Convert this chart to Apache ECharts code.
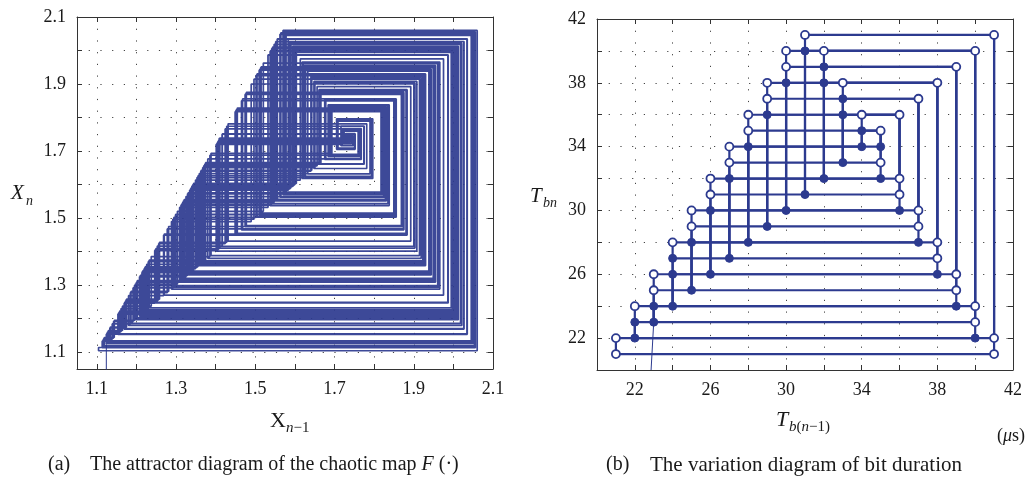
<!DOCTYPE html>
<html><head><meta charset="utf-8">
<script src="https://cdn.jsdelivr.net/npm/echarts@6/dist/echarts.min.js"></script>
<style>html,body{margin:0;padding:0;background:#fff}#c{width:1033px;height:482px}</style>
</head><body><div id="c"></div>
<script>
// ---------- Panel (a): orbit of the chaotic map, values read from the cobweb ----------
const orbitA = [
1.124,1.154,1.215,1.340,1.595,2.011,1.200,1.309,1.532,1.986,1.249,1.409,1.738,1.7325,1.743,1.7228,1.7621,1.6855,1.8349,1.5435,
2.0099,1.2023,1.3139,1.5416,2.0061,1.2097,1.3290,1.5724,2.0554,1.1136,1.1329,1.1723,1.2527,1.4167,1.7513,1.7066,1.7937,1.6239,1.9550,1.3093,
1.5322,1.9869,1.2471,1.4053,1.7280,1.7520,1.7052,1.7965,1.6184,1.9657,1.2885,1.4897,1.9002,1.4162,1.7502,1.7087,1.7896,1.6319,1.9394,1.3398,
1.5944,2.0125,1.1972,1.3035,1.5203,1.9626,1.2945,1.5020,1.9253,1.3673,1.6505,1.9031,1.4106,1.7388,1.7309,1.7463,1.7163,1.7748,1.6607,1.8832,
1.4494,1.8180,1.5765,2.0474,1.1292,1.1648,1.2374,1.3855,1.6876,1.8308,1.5515,2.0263,1.1703,1.2486,1.4083,1.7341,1.7401,1.7284,1.7512,1.7068,
1.7933,1.6247,1.9534,1.3125,1.5387,2.0001,1.2214,1.3529,1.6211,1.9605,1.2986,1.5103,1.9422,1.3343,1.5832,2.0344,1.1545,1.2164,1.3427,1.6003,
2.0010,1.2196,1.3492,1.6136,1.9751,1.2702,1.4524,1.8241,1.5646,2.0530,1.1182,1.1423,1.1915,1.2919,1.4967,1.9145,1.3883,1.6933,1.8197,1.5732,
2.0539,1.1165,1.1389,1.1846,1.2778,1.4679,1.8557,1.5030,1.9273,1.3634,1.6425,1.9187,1.3801,1.6766,1.8522,1.5098,1.9412,1.3363,1.5873,2.0264,
1.1701,1.2482,1.4075,1.7325,1.7432,1.7224,1.7629,1.6839,1.8380,1.5375,1.9977,1.2261,1.3624,1.6405,1.9226,1.3725,1.6611,1.8825,1.4507,1.8206,
1.5700,2.0601,1.1044,1.1142,1.1342,1.1750,1.2582,1.4279,1.7741,1.6621,1.8805,1.4546,1.8286,1.5558,2.0350,1.1533,1.2139,1.3376,1.5899,2.0213,
1.1801,1.2686,1.4491,1.8174,1.5777,2.0451,1.1337,1.1740,1.2562,1.4239,1.7660,1.6779,1.8497,1.5147,1.9512,1.3168,1.5475,2.0181,1.1863,1.2813,
1.4751,1.8704,1.4743,1.8688,1.4774,1.8751,1.4652,1.8502,1.5137,1.9492,1.3207,1.5554,2.0342,1.1549,1.2172,1.3443,1.6036,1.9946,1.2321,1.3747,
1.6656,1.8737,1.4679,1.8557,1.5042,1.9298,1.3585,1.6325,1.9382,1.3421,1.5991,2.0034,1.2150,1.3412,1.5972,2.0071,1.2078,1.3251,1.5644,2.0526,
1.1190,1.1440,1.1950,1.2990,1.5112,1.9441,1.3306,1.5756,2.0492,1.1257,1.1576,1.2227,1.3555,1.6264,1.9501,1.3189,1.5518,2.0269,1.1691,1.2462,
1.4034,1.7241,1.7596,1.6904,1.8253,1.5623,2.0483,1.1274,1.1611,1.2298,1.3700,1.6560,1.8924,1.4314,1.7813,1.6481,1.9078,1.4014,1.7201,1.7674,
1.6752,1.8550,1.5044,1.9302
];
const startA = [[1.124, 1.0], [1.124, 1.124]];
const tickLabelsA = [1.1, 1.3, 1.5, 1.7, 1.9, 2.1];

// ---------- Panel (b): transitions [T_b(n-1), T_bn] ----------
const transitionsB = [
[31,41],[30,40],[31,40],[32,40],[30,39],[32,39],[29,38],[30,38],[32,38],[33,38],
[29,37],[33,37],[28,36],[29,36],[33,36],[34,36],[28,35],[34,35],[27,34],[28,34],
[35,34],[27,33],[35,33],[26,32],[27,32],[35,32],[36,32],[26,31],[36,31],[25,30],
[26,30],[36,30],[37,30],[25,29],[37,29],[24,28],[25,28],[37,28],[38,28],[24,27],
[38,27],[23,26],[24,26],[38,26],[39,26],[23,25],[39,25],[22,24],[23,24],[39,24],
[40,24],[22,23],[40,23],[21,22],[40,22],[41,22],[41,21]
];
// markers that look hollow in the picture (all others look solid)
const openMarksB = [
[31,41],[41,41],[30,40],[32,40],[40,40],[30,39],[39,39],[29,38],[33,38],[38,38],
[29,37],[37,37],[28,36],[34,36],[36,36],[28,35],[35,35],[27,34],[27,33],[35,33],
[26,32],[36,32],[26,31],[36,31],[25,30],[37,30],[25,29],[37,29],[24,28],[38,28],
[38,27],[23,26],[39,26],[23,25],[39,25],[22,24],[40,24],[40,23],[21,22],[41,22],
[21,21],[41,21]
];
const startB = [[22.86, 20], [23, 23]];
const tickLabelsB = [22, 26, 30, 34, 38, 42];

// ---------- build ----------
const NAVY = '#2c3a8f';
const FONT = '"Liberation Serif", "DejaVu Serif", serif';
const has = (arr, v) => arr.some(t => Math.abs(t - v) < 1e-6);

const cobwebA = [];
for (let i = 0; i < orbitA.length - 1; i++) {
  cobwebA.push([orbitA[i], orbitA[i]]);
  cobwebA.push([orbitA[i], orbitA[i + 1]]);
}
cobwebA.push([orbitA[orbitA.length - 1], orbitA[orbitA.length - 1]]);

const segB = transitionsB.map(([a, b]) => ({ coords: [[a, a], [a, b], [b, b]] }));
const openKeys = new Set(openMarksB.map(p => p.join(',')));
const markKeys = new Set();
const solidB = [], hollowB = [];
transitionsB.forEach(([a, b]) => {
  [[a, b], [a, a], [b, b]].forEach(p => {
    const k = p.join(',');
    if (markKeys.has(k)) return;
    markKeys.add(k);
    (openKeys.has(k) ? hollowB : solidB).push(p);
  });
});

const gridLine = { show: true, lineStyle: { color: '#444', width: 1, type: [1.2, 10.5] } };
const tickIn = { show: true, inside: true, length: 5, lineStyle: { color: '#333' } };
const axLine = { show: true, onZero: false, lineStyle: { color: '#333', width: 1 } };
const lab = (list, dec) => ({
  show: true, color: '#1a1a1a', fontFamily: FONT, fontSize: 18, margin: 11,
  formatter: v => has(list, v) ? Number(v).toFixed(dec) : ''
});

function axisPair(grid, min, max, step, list, dec, isX) {
  const base = { type: 'value', gridIndex: grid, min, max, minInterval: step, maxInterval: step };
  if (min % step === 0) base.interval = step;
  const main = Object.assign({}, base, {
    position: isX ? 'bottom' : 'left',
    axisLine: axLine, axisTick: tickIn, splitLine: gridLine, axisLabel: lab(list, dec)
  });
  const opp = Object.assign({}, base, {
    position: isX ? 'top' : 'right',
    axisLine: axLine, axisTick: tickIn, splitLine: { show: false }, axisLabel: { show: false }
  });
  return [main, opp];
}

const xA = axisPair(0, 1.05, 2.1, 0.1, tickLabelsA, 1, true);
const yA = axisPair(0, 1.05, 2.1, 0.1, tickLabelsA, 1, false);
const xB = axisPair(1, 20, 42, 2, tickLabelsB, 0, true);
const yB = axisPair(1, 20, 42, 2, tickLabelsB, 0, false);

const txt = (left, top, text, size, extra) => ({
  type: 'text', left, top, silent: true,
  style: Object.assign({ text, fontFamily: FONT, fontSize: size, fill: '#1a1a1a' }, extra || {})
});
const ital = { fontStyle: 'italic' };
const richI = s => ({ rich: { i: { fontStyle: 'italic', fontSize: s, fontFamily: FONT, fill: '#1a1a1a' } } });

const option = {
  animation: false,
  backgroundColor: '#fff',
  grid: [
    { left: 77, top: 17, width: 416, height: 352 },
    { left: 597, top: 19, width: 416, height: 351 }
  ],
  xAxis: [xA[0], xA[1], xB[0], xB[1]],
  yAxis: [yA[0], yA[1], yB[0], yB[1]],
  series: [
    { type: 'line', xAxisIndex: 0, yAxisIndex: 0, data: startA, showSymbol: false,
      lineStyle: { color: NAVY, width: 1 }, z: 3 },
    { type: 'line', xAxisIndex: 0, yAxisIndex: 0, data: cobwebA, showSymbol: false,
      lineStyle: { color: NAVY, width: 1.7, opacity: 0.92 }, z: 3 },
    { type: 'line', xAxisIndex: 2, yAxisIndex: 2, data: startB, showSymbol: false,
      lineStyle: { color: NAVY, width: 1 }, z: 3 },
    { type: 'lines', coordinateSystem: 'cartesian2d', xAxisIndex: 2, yAxisIndex: 2,
      polyline: true, data: segB, lineStyle: { color: NAVY, width: 2.2, opacity: 1 }, z: 3 },
    { type: 'scatter', xAxisIndex: 2, yAxisIndex: 2, data: solidB, symbol: 'circle', symbolSize: 8,
      itemStyle: { color: NAVY, borderColor: NAVY, borderWidth: 1, opacity: 1 }, z: 4 },
    { type: 'scatter', xAxisIndex: 2, yAxisIndex: 2, data: hollowB, symbol: 'circle', symbolSize: 8,
      itemStyle: { color: '#fff', borderColor: NAVY, borderWidth: 1.8, opacity: 1 }, z: 4 }
  ],
  graphic: [
    txt(11, 183, 'X', 21, ital),
    txt(26, 194, 'n', 14, ital),
    txt(270, 410, 'X', 22),
    txt(286, 421, '{i|n}−1', 15, richI(15)),
    txt(530, 186, 'T', 21, ital),
    txt(543, 196, 'bn', 14, ital),
    txt(776, 409, 'T', 22, ital),
    txt(789, 420, '{i|b}({i|n}−1)', 15, richI(15)),
    txt(997, 427, '({i|μ}s)', 18, richI(18)),
    txt(48, 455, '(a)', 20),
    txt(90, 455, 'The attractor diagram of the chaotic map {i|F} (·)', 20, richI(20)),
    txt(606, 455, '(b)', 20),
    txt(650, 455, 'The variation diagram of bit duration', 21)
  ]
};

const chart = echarts.init(document.getElementById('c'), null, { renderer: 'canvas' });
chart.setOption(option);
</script></body></html>
